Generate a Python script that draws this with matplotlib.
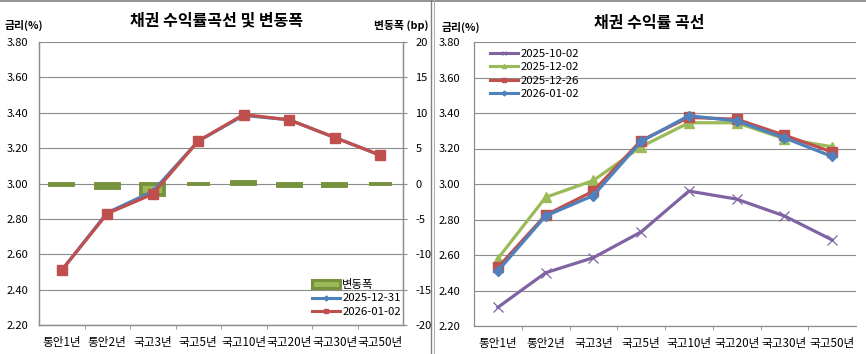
import matplotlib

matplotlib.use("Agg")
import matplotlib.pyplot as plt
from matplotlib.lines import Line2D
from matplotlib.patches import Patch

plt.rcParams["font.family"] = ["Noto Sans CJK KR", "DejaVu Sans"]

TENORS = ["통안1년", "통안2년", "국고3년", "국고5년", "국고10년", "국고20년", "국고30년", "국고50년"]

# left chart: curve on two dates and the change in bp
LEFT_PREV_LABEL = "2025-12-31"
LEFT_PREV = [2.51, 2.835, 2.955, 3.24, 3.385, 3.36, 3.26, 3.16]
LEFT_CURR_LABEL = "2026-01-02"
LEFT_CURR = [2.51, 2.83, 2.94, 3.24, 3.39, 3.36, 3.26, 3.16]
CHANGE_LABEL = "변동폭"
CHANGE_BP = [-0.25, -0.6, -1.6, 0.0, 0.2, -0.3, -0.3, 0.0]

# right chart: curves on four dates
RIGHT_LABELS = ["2025-10-02", "2025-12-02", "2025-12-26", "2026-01-02"]
RIGHT_OCT02 = [2.305, 2.50, 2.585, 2.73, 2.96, 2.915, 2.82, 2.685]
RIGHT_DEC02 = [2.58, 2.925, 3.02, 3.21, 3.345, 3.345, 3.255, 3.21]
RIGHT_DEC26 = [2.53, 2.825, 2.96, 3.245, 3.375, 3.365, 3.275, 3.18]
RIGHT_JAN02 = [2.51, 2.82, 2.935, 3.24, 3.385, 3.355, 3.26, 3.155]

RATE_TICKS = [2.20, 2.40, 2.60, 2.80, 3.00, 3.20, 3.40, 3.60, 3.80]
BP_TICKS = [-20, -15, -10, -5, 0, 5, 10, 15, 20]

BLUE = "#4F81BD"
RED = "#C0504D"
GREEN = "#9BBB59"
DARK_GREEN = "#76923C"
PURPLE = "#8064A2"
GRID = "#8C8C8C"
TEXT = "#000000"

W, H = 866, 354
fig = plt.figure(figsize=(W / 100, H / 100), dpi=100)


def px_rect(x0, y0, x1, y1):
    return [x0 / W, 1 - y1 / H, (x1 - x0) / W, (y1 - y0) / H]


def style_category_axis(ax):
    x = list(range(len(TENORS)))
    ax.set_xlim(-0.5, len(TENORS) - 0.5)
    ax.set_xticks(x)
    ax.set_xticklabels(TENORS, fontsize=8.4)
    ax.set_xticks([i + 0.5 for i in range(len(TENORS) - 1)], minor=True)
    ax.tick_params(axis="x", which="major", length=0, pad=8)
    ax.tick_params(axis="x", which="minor", length=3, color=GRID, direction="out")
    return x


# ---------------- left chart ----------------
ax_bp = fig.add_axes(px_rect(39, 42, 403, 325))
ax_rate = ax_bp.twinx()
ax_rate.set_zorder(ax_bp.get_zorder() + 1)
ax_rate.patch.set_visible(False)

x = style_category_axis(ax_bp)
ax_bp.bar(x, CHANGE_BP, width=0.5, color=GREEN, edgecolor=DARK_GREEN,
          linewidth=2.8, label=CHANGE_LABEL, zorder=3)
ax_bp.set_ylim(-20, 20)
ax_bp.set_yticks(BP_TICKS)
ax_bp.yaxis.tick_right()
ax_bp.set_yticklabels([str(v) for v in BP_TICKS], fontsize=8)
ax_bp.tick_params(axis="y", length=3, color=GRID, pad=6)
ax_bp.grid(axis="y", color=GRID, linewidth=0.8, zorder=0)
ax_bp.set_axisbelow(True)

ax_rate.yaxis.tick_left()
ax_rate.set_ylim(2.2, 3.8)
ax_rate.set_yticks(RATE_TICKS)
ax_rate.set_yticklabels([f"{v:.2f}" for v in RATE_TICKS], fontsize=8)
ax_rate.tick_params(axis="y", length=0, pad=8)
ax_rate.plot(x, LEFT_PREV, color=BLUE, linewidth=2.3, marker="D", markersize=3.5,
             label=LEFT_PREV_LABEL)
ax_rate.plot(x, LEFT_CURR, color=RED, linewidth=2.3, marker="s", markersize=6.5,
             label=LEFT_CURR_LABEL)

for a in (ax_bp, ax_rate):
    a.spines["top"].set_visible(False)
    for side in ("left", "right", "bottom"):
        a.spines[side].set_color(GRID)
        a.spines[side].set_linewidth(0.9)

handles = [
    Patch(facecolor=GREEN, edgecolor=DARK_GREEN, linewidth=2.2),
    Line2D([], [], color=BLUE, linewidth=2.2, marker="D", markersize=2.5),
    Line2D([], [], color=RED, linewidth=2.2, marker="s", markersize=3),
]
ax_rate.legend(handles, [CHANGE_LABEL, LEFT_PREV_LABEL, LEFT_CURR_LABEL],
               loc="upper left", bbox_to_anchor=(312 / W, 1 - 279 / H),
               bbox_transform=fig.transFigure, frameon=False, fontsize=8.2,
               handlelength=2.5, handleheight=0.6, handletextpad=0.15,
               labelspacing=0.3, borderpad=0, borderaxespad=0)

fig.text(217 / W, 1 - 20 / H, "채권 수익률곡선 및 변동폭", ha="center", va="center",
         fontsize=11.5, fontweight="bold", color=TEXT)
fig.text(5 / W, 1 - 25 / H, "금리(%)", ha="left", va="center", fontsize=7.8,
         fontweight="bold", color=TEXT)
fig.text(428 / W, 1 - 25 / H, "변동폭 (bp)", ha="right", va="center", fontsize=7.8,
         fontweight="bold", color=TEXT)

# ---------------- right chart ----------------
ax_r = fig.add_axes(px_rect(474, 42, 856, 326))
x = style_category_axis(ax_r)
ax_r.set_ylim(2.2, 3.8)
ax_r.set_yticks(RATE_TICKS)
ax_r.set_yticklabels([f"{v:.2f}" for v in RATE_TICKS], fontsize=8)
ax_r.tick_params(axis="y", length=0, pad=10)
ax_r.grid(axis="y", color=GRID, linewidth=0.8)
ax_r.set_axisbelow(True)
for side in ("top", "right"):
    ax_r.spines[side].set_visible(False)
for side in ("left", "bottom"):
    ax_r.spines[side].set_color(GRID)
    ax_r.spines[side].set_linewidth(0.9)

ax_r.plot(x, RIGHT_OCT02, color=PURPLE, linewidth=2.3, marker="x", markersize=6.5,
          markeredgewidth=0.9, label=RIGHT_LABELS[0])
ax_r.plot(x, RIGHT_DEC02, color=GREEN, linewidth=2.3, marker="^", markersize=6.5,
          label=RIGHT_LABELS[1])
ax_r.plot(x, RIGHT_DEC26, color=RED, linewidth=2.3, marker="s", markersize=6.5,
          label=RIGHT_LABELS[2])
ax_r.plot(x, RIGHT_JAN02, color=BLUE, linewidth=2.3, marker="D", markersize=5.5,
          label=RIGHT_LABELS[3])

r_handles = [
    Line2D([], [], color=PURPLE, linewidth=2.2, marker="x", markersize=3, markeredgewidth=0.7),
    Line2D([], [], color=GREEN, linewidth=2.2, marker="^", markersize=3),
    Line2D([], [], color=RED, linewidth=2.2, marker="s", markersize=3),
    Line2D([], [], color=BLUE, linewidth=2.2, marker="D", markersize=2.5),
]
ax_r.legend(r_handles, RIGHT_LABELS, loc="upper left",
            bbox_to_anchor=(490 / W, 1 - 49 / H), bbox_transform=fig.transFigure,
            frameon=False, fontsize=8.2, handlelength=2.5, handletextpad=0.15,
            labelspacing=0.3, borderpad=0, borderaxespad=0)

fig.text(649 / W, 1 - 23 / H, "채권 수익률 곡선", ha="center", va="center",
         fontsize=11.5, fontweight="bold", color=TEXT)
fig.text(442 / W, 1 - 27 / H, "금리(%)", ha="left", va="center", fontsize=7.8,
         fontweight="bold", color=TEXT)

# sheet borders
fig.add_artist(Line2D([0, 1], [1 - 0.5 / H, 1 - 0.5 / H], color="#808080", linewidth=1.2))
fig.add_artist(Line2D([431 / W, 431 / W], [0, 1], color="#808080", linewidth=1.0))
fig.add_artist(Line2D([434 / W, 434 / W], [0, 1], color="#B0B0B0", linewidth=0.8))

fig.savefig("out.png", dpi=100)
plt.close(fig)
